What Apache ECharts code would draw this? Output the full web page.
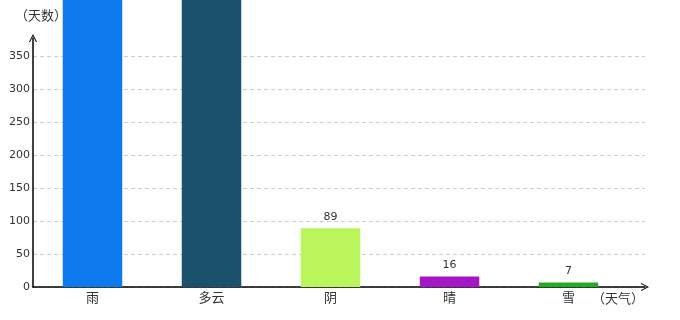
<!DOCTYPE html>
<html>
<head>
<meta charset="utf-8">
<script src="https://cdn.jsdelivr.net/npm/echarts@6/dist/echarts.min.js"></script>
<style>html,body{margin:0;padding:0;background:#fff}#c{width:680px;height:320px}</style>
</head>
<body>
<div id="c"></div>
<script>
var categories = ['雨', '多云', '阴', '晴', '雪'];
var days = [600, 520, 89, 16, 7];
var barColors = ['#0c7aee', '#1a526e', '#b9f55b', '#a417c6', '#21ad21'];
var yTicksMax = 350;
var yTickStep = 50;

var chart = echarts.init(document.getElementById('c'), null, {renderer: 'canvas'});
var arrowUp = 'path://M0,10 L5,0 L10,10 L8.6,10 L5,2.6 L1.4,10 Z';
var labelFont = 'DejaVu Sans';
var cjkFont = '"Noto Sans CJK SC", sans-serif';

chart.setOption({
  animation: false,
  grid: [
    {left: 33, right: 35, top: 56, bottom: 33, containLabel: false, outerBoundsMode: 'none'},
    {left: 33, width: 10, top: 38, bottom: 33, containLabel: false, outerBoundsMode: 'none'},
    {left: 33, width: 595, top: 56, bottom: 33, containLabel: false, outerBoundsMode: 'none'}
  ],
  xAxis: [
    {gridIndex: 0, type: 'value', min: 0, max: 1, show: true,
     axisLine: {show: true, lineStyle: {color: '#000', width: 1.5}, symbol: ['none', arrowUp], symbolSize: [8, 10]},
     axisTick: {show: false}, axisLabel: {show: false}, splitLine: {show: false},
     name: '（天气）', nameLocation: 'end', nameGap: -27,
     nameTextStyle: {color: '#333', fontFamily: cjkFont, fontSize: 13, align: 'center', verticalAlign: 'top', padding: [5, 0, 0, 0]}},
    {gridIndex: 1, type: 'value', show: false},
    {gridIndex: 2, type: 'category', data: categories,
     axisLine: {show: false}, axisTick: {show: false},
     axisLabel: {color: '#333', fontFamily: cjkFont, fontSize: 13, margin: 4}}
  ],
  yAxis: [
    {gridIndex: 0, type: 'value', min: 0, max: yTicksMax, interval: yTickStep,
     axisLine: {show: false}, axisTick: {show: false},
     axisLabel: {color: '#333', fontFamily: labelFont, fontSize: 11, margin: 3},
     splitLine: {show: true, lineStyle: {color: '#ccc', type: [4, 3]}}},
    {gridIndex: 1, type: 'value', min: 0, max: 1,
     axisLine: {show: true, lineStyle: {color: '#000', width: 1.5}, symbol: ['none', arrowUp], symbolSize: [8, 10]},
     axisTick: {show: false}, axisLabel: {show: false}, splitLine: {show: false},
     name: '（天数）', nameLocation: 'end', nameGap: 16,
     nameTextStyle: {color: '#333', fontFamily: cjkFont, fontSize: 13, align: 'center', padding: [0, 0, 0, 16]}},
    {gridIndex: 2, type: 'value', min: 0, max: yTicksMax, show: false}
  ],
  series: [{
    type: 'bar',
    xAxisIndex: 2, yAxisIndex: 2,
    clip: false,
    barWidth: '50%',
    data: days.map(function (v, i) { return {value: v, itemStyle: {color: barColors[i]}}; }),
    label: {show: true, position: 'top', distance: 6, color: '#333', fontFamily: labelFont, fontSize: 11}
  }]
});
</script>
</body>
</html>
